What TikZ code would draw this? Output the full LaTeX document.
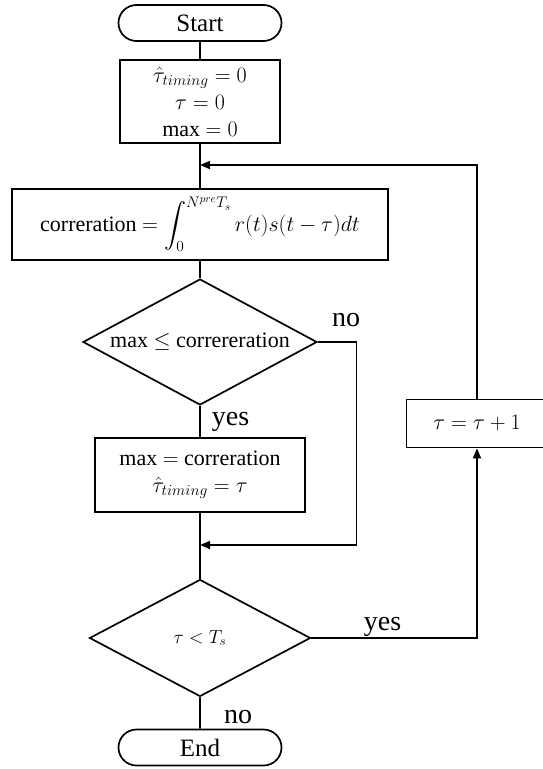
\RequirePackage{fix-cm}
\documentclass[tikz,border=0pt]{standalone}
\usepackage{amssymb}
\usepackage{amsmath}
\usepackage{fontspec}
\setmainfont{Liberation Serif}
\usepackage{tikz}
\usetikzlibrary{shapes,arrows.meta}

\begin{document}
\begin{tikzpicture}[x=1pt,y=-1pt]
    \tikzstyle{every node}=[inner sep=0pt]
    \tikzstyle{terminal}=[rounded rectangle,draw,line width=1.7pt,minimum width=163pt,minimum height=36pt,font=\fontsize{25}{28}\selectfont]
    \tikzstyle{process}=[rectangle,draw,line width=1.7pt,align=center,font=\fontsize{22}{27}\selectfont]
    \tikzstyle{decision}=[diamond,draw,line width=1.7pt,font=\fontsize{22}{26}\selectfont]
    \tikzstyle{branch}=[anchor=base,font=\fontsize{28}{30}\selectfont]
    \tikzstyle{flow}=[line width=1.7pt]
    \tikzstyle{arrow}=[flow,-{Triangle[length=10pt,width=8pt]}]
    \clip (0,0) rectangle (543,769);

    \node[terminal] (start) at (200,23) {Start};
    \node[process,minimum width=160pt,minimum height=83pt] (init) at (200,101.5)
      {$\hat{\tau}_{timing}=0$\\$\tau=0$\\max $=0$};
    \node[process,minimum width=376pt,minimum height=71pt] (corr) at (200,224.5)
      {correration $=\displaystyle\int_0^{N^{pre}T_s} r(t)s(t-\tau)dt$};
    \node[decision,aspect=1.86,minimum width=234pt,minimum height=126pt] (check) at (200,342)
      {max $\leq$ correreration};
    \node[process,minimum width=210pt,minimum height=74pt] (update) at (200,474.7)
      {max $=$ correration\\$\hat{\tau}_{timing}=\tau$};
    \node[decision,aspect=1.89,minimum width=221pt,minimum height=117pt,font=\fontsize{19}{21}\selectfont] (again) at (200,638)
      {$\tau<T_s$};
    \node[process,minimum width=141pt,minimum height=48pt] (incr) at (477,423.5) {$\tau=\tau+1$};
    \node[terminal] (stop) at (200,747.5) {End};

    \coordinate (merge) at (200,165);
    \coordinate (join) at (200,545);
    \coordinate (skip) at (356.6,545);

    \draw[flow] (start) -- (init);
    \draw[flow] (init) -- (corr);
    \draw[flow] (corr) -- (check);
    \draw[flow] (check) -- (update);
    \draw[flow] (update) -- (again);
    \draw[flow] (again) -- (stop);
    \draw[arrow] (incr.north) |- (merge);
    \draw[arrow] (check.east) -| (skip) -- (join);
    \draw[arrow] (again.east) -| (incr.south);

    \node[branch] (checkno) at (346,326.5) {no};
    \node[branch] (checkyes) at (230.5,425) {yes};
    \node[branch] (againyes) at (382.6,630) {yes};
    \node[branch] (againno) at (238,723) {no};
\end{tikzpicture}
\end{document}
